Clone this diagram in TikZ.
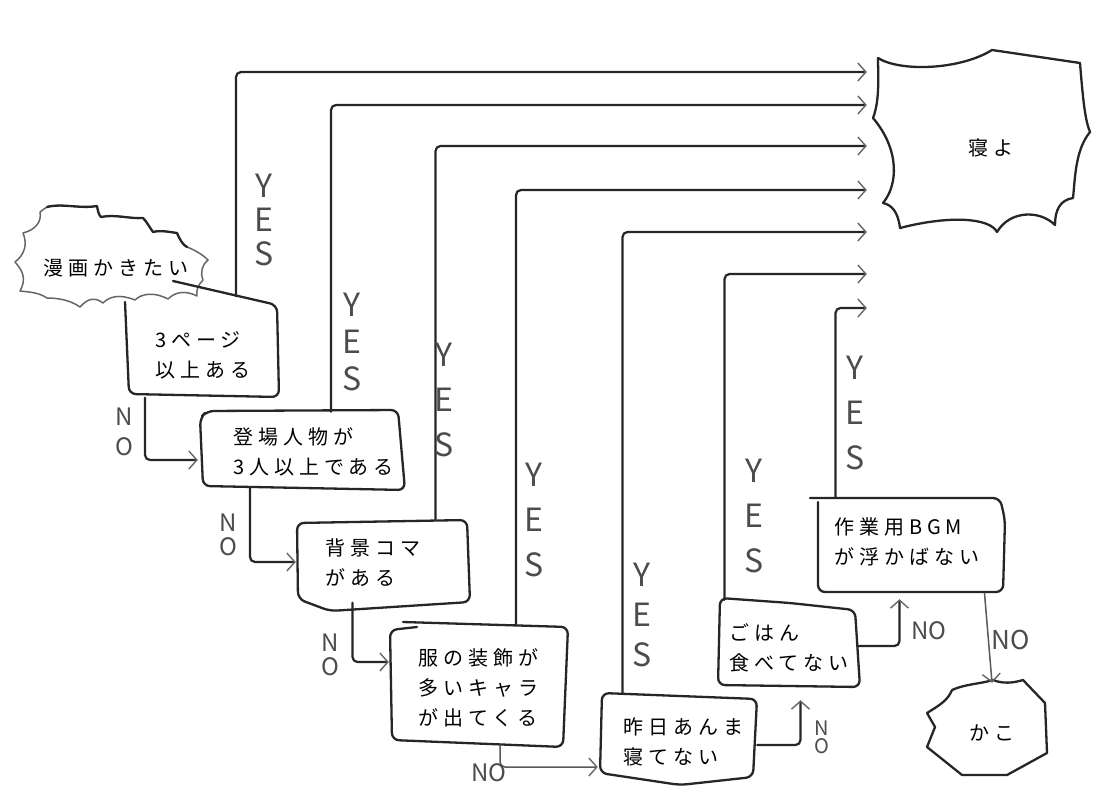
\documentclass[tikz,border=0pt]{standalone}
\usepackage{fontspec}
\newfontfamily\jp{Noto Sans CJK JP}[LetterSpace=25]
\newfontfamily\hand{Noto Sans CJK JP}
\usetikzlibrary{arrows.meta,calc}
\tikzset{
  sk/.style={line width=2.3pt, draw=black!85, line cap=round, line join=round, rounded corners=7pt},
  skl/.style={line width=1.5pt, draw=black!60, line cap=round, line join=round},
  frame/.style={draw=none, inner sep=0pt},
  txt/.style={font=\jp\fontsize{20}{30}\selectfont, align=left, inner sep=0pt, anchor=west},
  ctxt/.style={font=\jp\fontsize{20}{30}\selectfont, inner sep=0pt},
  yesl/.style={font=\hand\fontsize{32}{#1}\selectfont, text=black!70, align=center, inner sep=0pt},
  yesl/.default=40,
  nol/.style={font=\hand\fontsize{24}{#1}\selectfont, text=black!70, align=center, inner sep=0pt},
  nol/.default=24,
  conn/.style={line width=2.2pt, draw=black!85, rounded corners=5pt, line cap=round,
    -{Straight Barb[length=8pt,width=18pt,line width=1.4pt,color=black!60]}},
  connl/.style={conn, line width=1.5pt, draw=black!65},
}
\begin{document}
\begin{tikzpicture}[x=1pt,y=-1pt]
\fill[white] (0,0) rectangle (1100,800);
\useasboundingbox (0,0) rectangle (1100,800);

% ---------- frames (invisible) ----------
\node[frame, minimum width=152pt, minimum height=97pt] (b1) at (202,349) {};
\node[frame, minimum width=204pt, minimum height=76pt] (b2) at (302,450) {};
\node[frame, minimum width=171pt, minimum height=83pt] (b3) at (382.5,561) {};
\node[frame, minimum width=178pt, minimum height=118pt] (b4) at (479,686) {};
\node[frame, minimum width=155pt, minimum height=82pt] (b5) at (678.5,735) {};
\node[frame, minimum width=139pt, minimum height=86pt] (b6) at (788.5,643) {};
\node[frame, minimum width=191pt, minimum height=96pt] (b7) at (907.5,545) {};

% ---------- terminal shapes ----------
\node[ctxt, minimum width=180pt, minimum height=90pt] (s) at (116,268) {漫画かきたい};
\node[ctxt, minimum width=208pt, minimum height=170pt] (z) at (991,148) {寝よ};
\node[ctxt, minimum width=120pt, minimum height=100pt] (k) at (992,733) {かこ};

% start cloud
\draw[skl] (47,207) .. controls (62,203) and (80,209) .. (97,206)
  .. controls (98,212) and (99,215) .. (101,217)
  .. controls (115,214) and (130,219) .. (143,218)
  .. controls (147,222) and (150,228) .. (153,232)
  .. controls (160,230) and (170,232) .. (177,233)
  .. controls (180,240) and (183,245) .. (187,247)
  .. controls (195,250) and (203,255) .. (208,260)
  .. controls (202,265) and (200,272) .. (203,280)
  .. controls (198,285) and (196,290) .. (197,296)
  .. controls (185,290) and (175,292) .. (168,299)
  .. controls (155,292) and (142,293) .. (135,300)
  .. controls (120,294) and (110,296) .. (103,303)
  .. controls (95,297) and (88,298) .. (80,307)
  .. controls (70,300) and (58,298) .. (47,298)
  .. controls (38,292) and (28,292) .. (20,291)
  .. controls (26,280) and (24,272) .. (15,262)
  .. controls (24,255) and (28,245) .. (23,233)
  .. controls (35,230) and (42,222) .. (40,212)
  .. controls (43,210) and (45,208) .. (47,207) -- cycle;
\draw[sk, rounded corners=0pt] (47,207) .. controls (62,203) and (80,209) .. (97,206)
  .. controls (98,212) and (99,215) .. (101,217)
  .. controls (115,214) and (130,219) .. (143,218)
  .. controls (147,222) and (150,228) .. (153,232)
  .. controls (160,230) and (170,232) .. (177,233)
  .. controls (180,240) and (183,245) .. (187,247);

% sleep box outline
\draw[sk, rounded corners=0pt] (878,58) .. controls (900,72) and (960,70) .. (992,50) -- (1080,63)
  .. controls (1083,100) and (1085,120) .. (1090,132)
  .. controls (1075,150) and (1075,180) .. (1073,198)
  .. controls (1060,200) and (1055,210) .. (1055,225)
  .. controls (1040,210) and (1010,210) .. (997,232)
  .. controls (990,218) and (950,215) .. (900,228)
  .. controls (898,212) and (892,205) .. (883,203)
  .. controls (898,185) and (900,150) .. (873,118)
  .. controls (880,100) and (878,75) .. (878,58);

% kako starburst
\draw[sk, rounded corners=0pt] (952,690) .. controls (965,684) and (980,684) .. (993,680)
  .. controls (1003,684) and (1013,683) .. (1023,680) -- (1045,703) -- (1047,753)
  -- (1007,775) -- (962,775) -- (927,747) -- (935,727) -- (927,713)
  .. controls (940,705) and (948,700) .. (952,690);

% ---------- boxes ----------
\draw[sk] (173,281) -- (277,305) -- (279,397) -- (129,394) -- (125,302);
\draw[sk] (207,411) -- (398,410) -- (405,490) -- (203,486) -- (200,418) -- cycle;
\draw[sk] (297,523) -- (467,520) -- (470,602) -- (330,611) -- (298,599) -- cycle;
\draw[sk] (403,622) -- (568,627) -- (563,747) -- (392,740) -- (390,630) -- (417,627);
\draw[sk] (602,693) -- (757,699) -- (753,777) -- (680,785) -- (600,773) -- cycle;
\draw[sk] (720,598) -- (790,603) -- (855,610) -- (860,687) -- (718,685) -- cycle;
\draw[sk] (810,498) -- (1000,498) -- (1005,520) -- (1003,592) -- (818,592) -- (818,502);

% ---------- box texts ----------
\node[txt] (t1) at ([shift={(29,6)}]b1.west) {3ページ\\以上ある};
\node[txt] (t2) at ([shift={(33,2)}]b2.west) {登場人物が\\3人以上である};
\node[txt] (t3) at ([shift={(28,2)}]b3.west) {背景コマ\\がある};
\node[txt] (t4) at ([shift={(28,2)}]b4.west) {服の装飾が\\多いキャラ\\が出てくる};
\node[txt] (t5) at ([shift={(22,7)}]b5.west) {昨日あんま\\寝てない};
\node[txt] (t6) at ([shift={(10,5)}]b6.west) {ごはん\\食べてない};
\node[txt] (t7) at ([shift={(22,-3)}]b7.west) {作業用BGM\\が浮かばない};

% ---------- YES connectors ----------
\coordinate (zin) at ([xshift=-20pt]z.west);
\draw[conn] ([shift={(34,-4)}]b1.north) |- (zin |- 0,72);
\draw[conn] ([shift={(29,0)}]b2.north) |- (zin |- 0,105);
\draw[conn] ([shift={(53,0)}]b3.north) |- (zin |- 0,146);
\draw[conn] ([shift={(37,-2)}]b4.north) |- (zin |- 0,190);
\draw[conn] ([shift={(-56,0)}]b5.north) |- (zin |- 0,232);
\draw[conn] ([shift={(-64,0)}]b6.north) |- (zin |- 0,274);
\draw[conn] ([shift={(-72,0)}]b7.north) |- (zin |- 0,308);

% ---------- NO connectors ----------
\draw[conn] ([xshift=-57pt]b1.south) |- ([shift={(-2,10)}]b2.west);
\draw[conn] ([xshift=-52pt]b2.south) |- ([shift={(-1,1)}]b3.west);
\draw[conn] ([xshift=-30pt]b3.south) |- ([shift={(-1,-24)}]b4.west);
\draw[connl] ([xshift=21pt]b4.south) |- ([shift={(-3,32)}]b5.west);
\draw[conn] ([shift={(1,10)}]b5.east) -| ([shift={(12,14)}]b6.south);
\draw[conn] ([shift={(0,3)}]b6.east) -| ([shift={(-8,6)}]b7.south);
\draw[connl] ([xshift=77pt]b7.south) -- (k.north);

% ---------- labels ----------
\node[yesl=34] (y1) at (264,220) {Y\\E\\S};
\node[yesl=37] (y2) at (352,342) {Y\\E\\S};
\node[yesl=45] (y3) at (444,400) {Y\\E\\S};
\node[yesl=45] (y4) at (534,520) {Y\\E\\S};
\node[yesl=40] (y5) at (642,615) {Y\\E\\S};
\node[yesl=45] (y6) at (754,516) {Y\\E\\S};
\node[yesl=45] (y7) at (855,413) {Y\\E\\S};

\node[nol=30] (n1) at (124,432) {N\\O};
\node[nol] (n2) at (228,535) {N\\O};
\node[nol] (n3) at (330,655) {N\\O};
\node[nol] (n4) at (489,773) {NO};
\node[nol=18, font=\hand\fontsize{20}{18}\selectfont] (n5) at (822,737) {N\\O};
\node[nol] (n6) at (929,631) {NO};
\node[nol, font=\hand\fontsize{26}{26}\selectfont] (n7) at (1011,640) {NO};
\end{tikzpicture}
\end{document}
